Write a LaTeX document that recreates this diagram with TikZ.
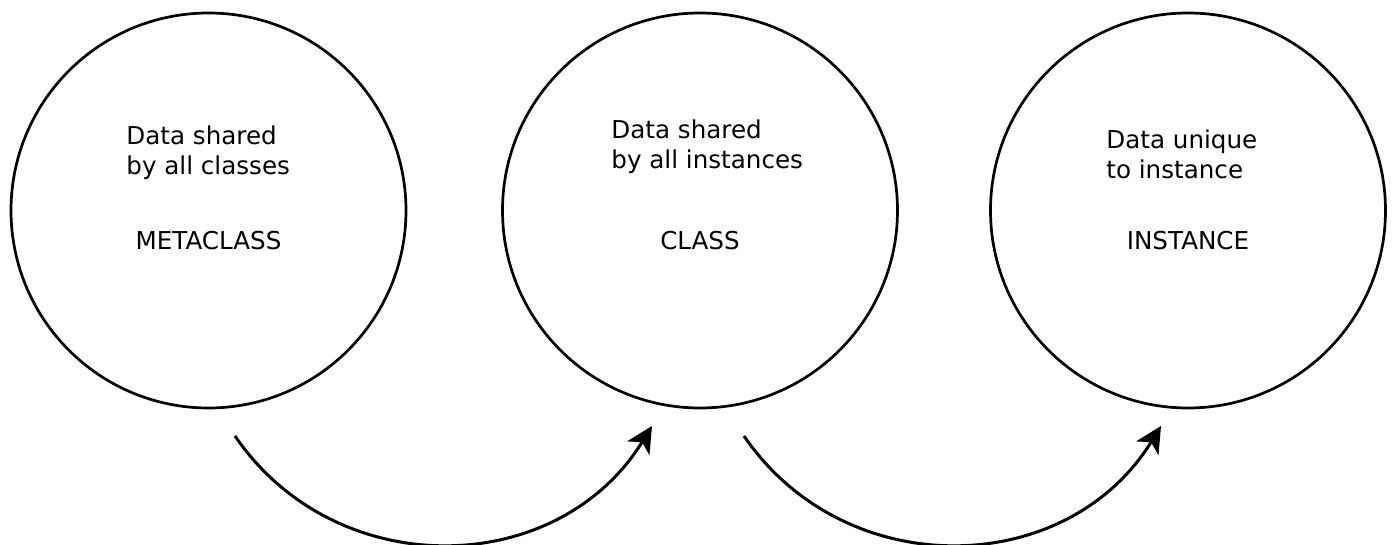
\documentclass[tikz,border=0pt]{standalone}
\usepackage{fontspec}
\setmainfont{DejaVu Sans}
\usepackage{tikz}
\usetikzlibrary{arrows.meta}
\newcommand{\notesize}{\fontsize{12.3pt}{15.25pt}\selectfont}
\tikzset{
  ringline/.style={draw=black,line width=1.35pt,circle,minimum size=197.5pt,inner sep=0pt},
  notefont/.style={font=\notesize,align=left,anchor=north west,inner sep=0pt},
  namefont/.style={font=\notesize,anchor=base,inner sep=0pt},
  flowline/.style={line width=1.5pt,-{Stealth[length=13pt,width=13pt,inset=3.5pt]}},
}
\newcommand{\lring}[6]{%
  \node[ringline] (#1) at (#2,-210.5) {};
  \node[notefont] (#1note) at (#3,-#4) {#5};
  \node[namefont] (#1name) at (#2,-250) {#6};}
\newcommand{\lflow}[4]{%
  \coordinate (#1) at (#3,-436);
  \coordinate (#2) at (#4,-426);
  \draw[flowline] (#1) to[bend right=57,looseness=1.1] (#2);}

\begin{document}
\begin{tikzpicture}[x=0.5pt,y=0.5pt]
        \useasboundingbox (0,0) rectangle (1394,-545);
        \lring{meta}{208.5}{126}{125}{Data shared\\by all classes}{METACLASS}
        \lring{class}{700}{611}{119}{Data shared\\by all instances}{CLASS}
        \lring{inst}{1188}{1106}{129}{Data unique\\to instance}{INSTANCE}
        \lflow{metaout}{classin}{235}{652}
        \lflow{classout}{instin}{744}{1161}
      \end{tikzpicture}
\end{document}
